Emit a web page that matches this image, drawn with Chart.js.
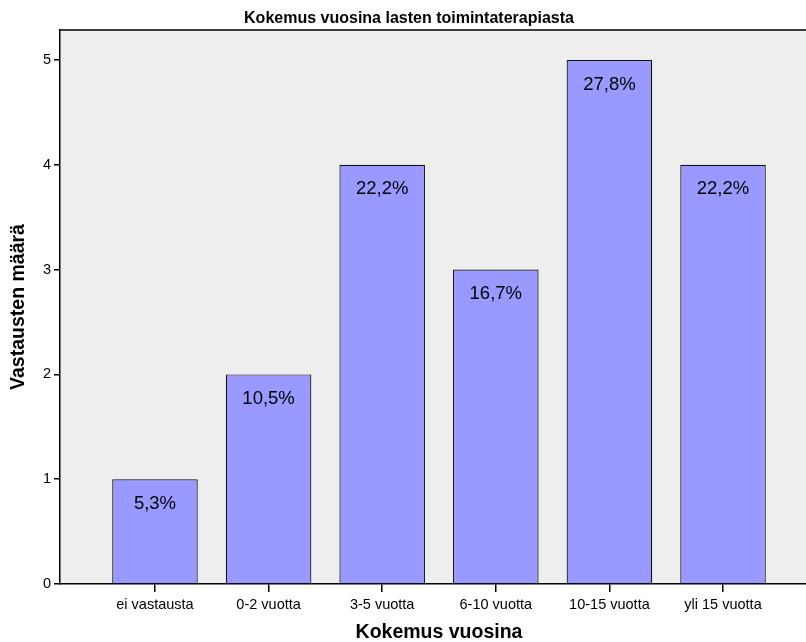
<!DOCTYPE html>
<html>
<head>
<meta charset="utf-8">
<script src="https://cdn.jsdelivr.net/npm/chart.js@4/dist/chart.umd.min.js"></script>
<style>
html,body{margin:0;padding:0;background:#fff;overflow:hidden;}
canvas{display:block;}
</style>
</head>
<body>
<canvas id="c" width="818" height="642"></canvas>
<script>
const categories = ["ei vastausta", "0-2 vuotta", "3-5 vuotta", "6-10 vuotta", "10-15 vuotta", "yli 15 vuotta"];
const counts = [1, 2, 4, 3, 5, 4];
const percentLabels = ["5,3%", "10,5%", "22,2%", "16,7%", "27,8%", "22,2%"];
const yTicks = [0, 1, 2, 3, 4, 5];

const FONT = "'Liberation Sans', Arial, sans-serif";

const bgPlugin = {
  id: 'bg',
  beforeDraw(chart) {
    const {ctx, chartArea: a} = chart;
    ctx.save();
    ctx.fillStyle = '#eeeeee';
    ctx.fillRect(a.left, a.top, a.right - a.left, a.bottom - a.top);
    ctx.restore();
  },
  afterDraw(chart) {
    const {ctx, chartArea: a} = chart;
    ctx.save();
    ctx.strokeStyle = '#000';
    ctx.lineWidth = 1.5;
    ctx.beginPath();
    ctx.moveTo(a.left, a.top);
    ctx.lineTo(a.right, a.top);
    ctx.stroke();
    ctx.restore();
  }
};

const labelPlugin = {
  id: 'pctLabels',
  afterDatasetsDraw(chart) {
    const {ctx} = chart;
    const meta = chart.getDatasetMeta(0);
    ctx.save();
    ctx.fillStyle = '#000';
    ctx.font = '18.5px ' + FONT;
    ctx.textAlign = 'center';
    ctx.textBaseline = 'middle';
    meta.data.forEach((bar, i) => {
      ctx.fillText(percentLabels[i], bar.x, bar.y + 24.5);
    });
    ctx.restore();
  }
};

new Chart(document.getElementById('c'), {
  type: 'bar',
  data: {
    datasets: [{
      data: categories.map((c, i) => ({x: i, y: counts[i]})),
      backgroundColor: '#9999ff',
      borderColor: '#111111',
      borderWidth: 1.2,
      borderSkipped: 'bottom',
      barPercentage: 0.753,
      categoryPercentage: 1
    }]
  },
  options: {
    responsive: false,
    animation: false,
    layout: {padding: 0},
    plugins: {
      legend: {display: false},
      tooltip: {enabled: false},
      title: {
        display: true,
        text: 'Kokemus vuosina lasten toimintaterapiasta',
        color: '#000',
        font: {family: FONT, size: 16, weight: 'bold', lineHeight: 1},
        padding: {top: 11, bottom: 3}
      }
    },
    scales: {
      x: {
        type: 'linear',
        offset: false,
        min: -0.836,
        max: 5.836,
        afterBuildTicks(scale) { scale.ticks = categories.map((c, i) => ({value: i})); },
        afterFit(scale) { scale.height = 58; },
        ticks: {
          color: '#000',
          font: {family: FONT, size: 14.5},
          padding: 4,
          maxRotation: 0,
          autoSkip: false,
          callback: (v) => categories[v]
        },
        grid: {display: true, offset: false, drawOnChartArea: false, drawTicks: true, tickLength: 8, color: '#000', lineWidth: 1.5},
        border: {display: true, color: '#000', width: 1.5},
        title: {
          display: true,
          text: 'Kokemus vuosina',
          color: '#000',
          font: {family: FONT, size: 19.5, weight: 'bold', lineHeight: 1},
          padding: 0
        }
      },
      y: {
        min: 0,
        max: 5.286,
        afterBuildTicks(scale) { scale.ticks = yTicks.map(v => ({value: v})); },
        afterFit(scale) { scale.width = 60; },
        ticks: {
          color: '#000',
          font: {family: FONT, size: 14.5},
          padding: 3
        },
        grid: {display: true, drawOnChartArea: false, drawTicks: true, tickLength: 6, color: '#000', lineWidth: 1.5},
        border: {display: true, color: '#000', width: 1.5},
        title: {
          display: true,
          text: 'Vastausten määrä',
          color: '#000',
          font: {family: FONT, size: 19.5, weight: 'bold', lineHeight: 1},
          padding: {top: 9, bottom: 0}
        }
      }
    }
  },
  plugins: [bgPlugin, labelPlugin]
});
</script>
</body>
</html>
